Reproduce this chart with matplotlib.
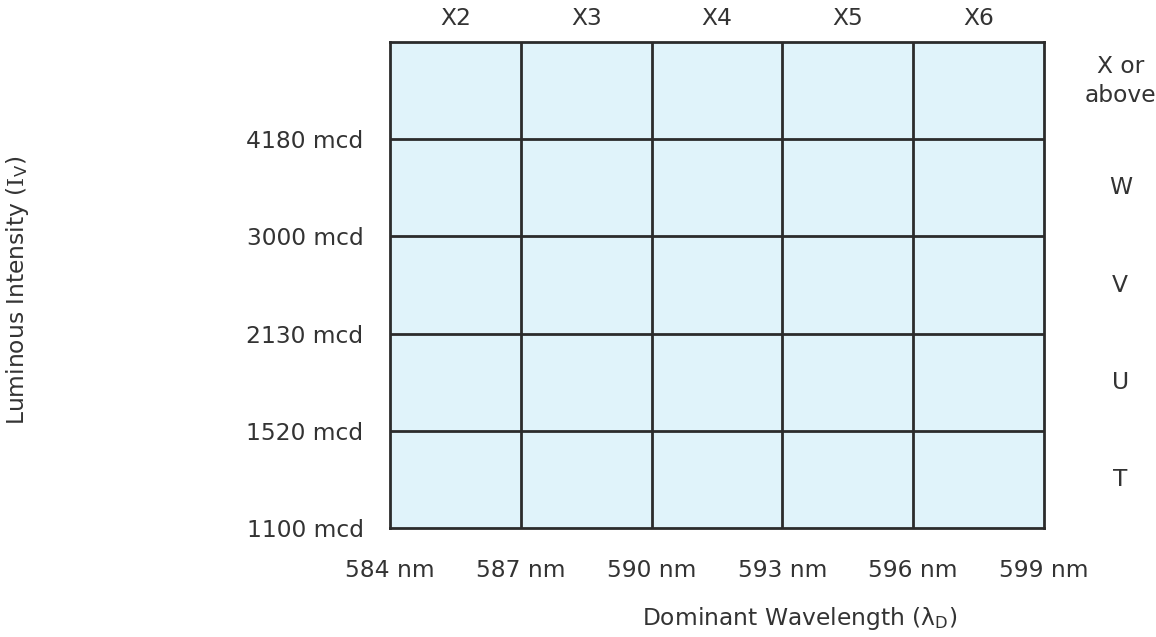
import matplotlib
matplotlib.use("Agg")
import matplotlib.pyplot as plt
import numpy as np

# Data
wavelength_edges = [584, 587, 590, 593, 596, 599]          # nm
wavelength_bins = ["X2", "X3", "X4", "X5", "X6"]
intensity_edges = [1100, 1520, 2130, 3000, 4180]            # mcd (top bin open-ended)
intensity_bins = ["T", "U", "V", "W", "X or\nabove"]

plt.rcParams['font.family'] = ['DejaVu Sans']
plt.rcParams['mathtext.fontset'] = 'dejavuserif'

TXT = '#333333'
LINE = '#2b2b2b'
FILL = '#e0f3fa'
FS = 16.8

fig = plt.figure(figsize=(11.56, 6.37), dpi=100)
W, H = 1156, 637
ax = fig.add_axes([390 / W, 1 - 528 / H, (1044 - 390) / W, (528 - 42) / H])
ax.set_facecolor(FILL)

nrows = len(intensity_bins)
ax.set_xlim(wavelength_edges[0], wavelength_edges[-1])
ax.set_ylim(0, nrows)

# grid lines
for x in wavelength_edges[1:-1]:
    ax.axvline(x, color=LINE, lw=2)
for i in range(1, nrows):
    ax.axhline(i, color=LINE, lw=2)
for s in ax.spines.values():
    s.set_color(LINE)
    s.set_linewidth(2)

# ticks
ax.set_xticks(wavelength_edges)
ax.set_xticklabels([f"{v} nm" for v in wavelength_edges], fontsize=FS, color=TXT)
ax.set_yticks(range(len(intensity_edges)))
ax.set_yticklabels([f"{v} mcd" for v in intensity_edges], fontsize=FS, color=TXT)
ax.tick_params(axis='both', length=0)
ax.tick_params(axis='x', pad=22)
ax.tick_params(axis='y', pad=19)

# top bin labels
for i, lab in enumerate(wavelength_bins):
    xc = (wavelength_edges[i] + wavelength_edges[i + 1]) / 2
    ax.text(xc, nrows + 0.12, lab, ha='center', va='bottom',
            fontsize=FS, color=TXT, clip_on=False)

# right bin labels
for i, lab in enumerate(intensity_bins):
    yc = i + 0.5
    if '\n' in lab:
        yc += 0.1
    ax.text(wavelength_edges[-1] + 1.75, yc, lab, ha='center', va='center',
            fontsize=FS, color=TXT, clip_on=False, linespacing=1.3)

fig.text(18 / W, 1 - 290 / H, r"Luminous Intensity ($\mathrm{I}_{\mathregular{V}}$)",
         rotation=90, ha='center', va='center', fontsize=FS, color=TXT)
fig.text(800 / W, 1 - 619 / H, r"Dominant Wavelength (λ$_{\mathregular{D}}$)",
         ha='center', va='center', fontsize=FS, color=TXT)

fig.savefig("out.png", dpi=100)
